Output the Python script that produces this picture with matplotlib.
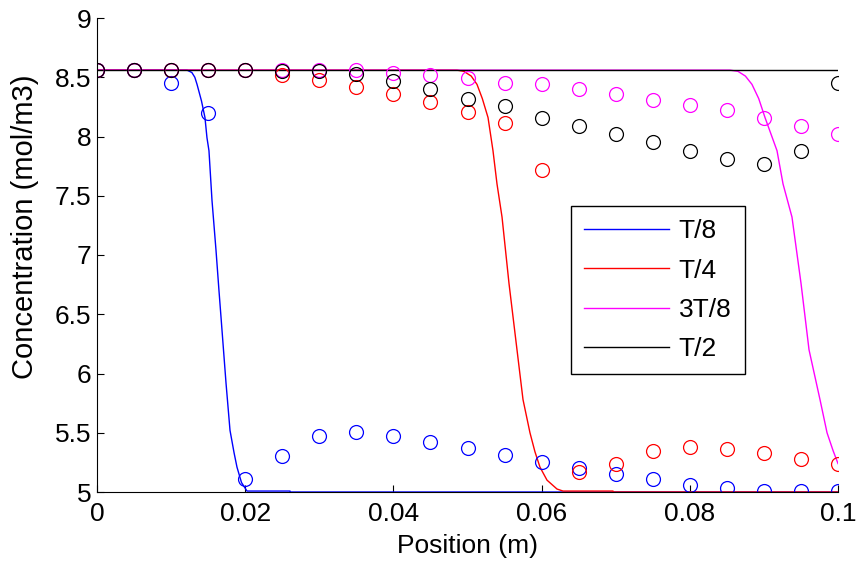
import numpy as np
import matplotlib
matplotlib.use("Agg")
import matplotlib.pyplot as plt
from matplotlib.ticker import FuncFormatter

plt.rcParams['font.family'] = ['Liberation Sans', 'DejaVu Sans']

# Simulated profiles (lines)
t8_x = [0.0, 0.01215, 0.01280, 0.01320, 0.01350, 0.01410, 0.01457, 0.01484, 0.01511,
        0.01552, 0.01606, 0.01646, 0.01673, 0.01741, 0.01795, 0.01850, 0.01889, 0.01950,
        0.02024, 0.02605, 0.02606, 0.1]
t8_y = [8.56, 8.56, 8.54, 8.50, 8.44, 8.30, 8.16, 7.99, 7.88,
        7.46, 7.04, 6.70, 6.48, 5.92, 5.52, 5.33, 5.21, 5.08,
        5.008, 5.008, 5.0, 5.0]

t4_x = [0.0, 0.04858, 0.04950, 0.05050, 0.05128, 0.05200, 0.05277, 0.05344, 0.05398,
        0.05466, 0.05560, 0.05668, 0.05749, 0.05843, 0.05910, 0.05978, 0.06073, 0.06208,
        0.06289, 0.06964, 0.06965, 0.1]
t4_y = [8.56, 8.56, 8.55, 8.51, 8.44, 8.32, 8.16, 7.88, 7.60,
        7.32, 6.76, 6.20, 5.78, 5.50, 5.34, 5.21, 5.10, 5.025,
        5.008, 5.008, 5.0, 5.0]

t38_x = [0.0, 0.08543, 0.08650, 0.08750, 0.08839, 0.08930, 0.09015, 0.09177, 0.09258,
         0.09379, 0.09501, 0.09609, 0.09757, 0.09852, 0.09933, 0.1]
t38_y = [8.56, 8.56, 8.55, 8.51, 8.44, 8.32, 8.16, 7.88, 7.60,
         7.32, 6.76, 6.20, 5.78, 5.50, 5.35, 5.24]

t2_x = [0.0, 0.1]
t2_y = [8.56, 8.56]

# Circle markers
pos = [0.0, 0.005, 0.01, 0.015, 0.02, 0.025, 0.03, 0.035, 0.04, 0.045, 0.05,
       0.055, 0.06, 0.065, 0.07, 0.075, 0.08, 0.085, 0.09, 0.095, 0.1]
c_t8 = [8.56, 8.56, 8.45, 8.20, 5.11, 5.30, 5.47, 5.51, 5.47, 5.42, 5.37,
        5.31, 5.25, 5.20, 5.15, 5.11, 5.06, 5.03, 5.01, 5.01, 5.01]
c_t4 = [8.56, 8.56, 8.56, 8.56, 8.56, 8.52, 8.48, 8.42, 8.36, 8.29, 8.21,
        8.11, 7.72, 5.17, 5.24, 5.35, 5.38, 5.36, 5.33, 5.28, 5.24]
c_t38 = [8.56, 8.56, 8.56, 8.56, 8.56, 8.56, 8.56, 8.56, 8.54, 8.52, 8.49,
         8.45, 8.44, 8.40, 8.36, 8.31, 8.27, 8.22, 8.16, 8.09, 8.02]
c_t2 = [8.56, 8.56, 8.56, 8.56, 8.56, 8.55, 8.55, 8.53, 8.47, 8.40, 8.32,
        8.26, 8.16, 8.09, 8.02, 7.95, 7.88, 7.81, 7.77, 7.88, 8.45]

labels = ['T/8', 'T/4', '3T/8', 'T/2']
colors = ['#0000ff', '#ff0000', '#ff00ff', '#000000']
xticks = [0, 0.02, 0.04, 0.06, 0.08, 0.1]
yticks = [5, 5.5, 6, 6.5, 7, 7.5, 8, 8.5, 9]

fig = plt.figure(figsize=(8.61, 5.67), dpi=100)
ax = fig.add_axes([97/861, 1-492/567, (838-97)/861, (492-18)/567])

lines_x = [t8_x, t4_x, t38_x, t2_x]
lines_y = [t8_y, t4_y, t38_y, t2_y]
handles = []
for lx, ly, c, lab in zip(lines_x, lines_y, colors, labels):
    h, = ax.plot(lx, ly, color=c, lw=1.0, label=lab)
    handles.append(h)

for cy, c in zip([c_t8, c_t4, c_t38, c_t2], colors):
    ax.plot(pos, cy, linestyle='none', marker='o', markersize=10,
            markerfacecolor='none', markeredgecolor=c, markeredgewidth=0.9)

ax.set_xlim(0, 0.1)
ax.set_ylim(5, 9)
ax.set_xticks(xticks)
ax.set_yticks(yticks)
fmt = FuncFormatter(lambda v, p: '%g' % round(v, 6))
ax.xaxis.set_major_formatter(fmt)
ax.yaxis.set_major_formatter(fmt)
ax.tick_params(direction='in', length=5, width=0.8, labelsize=19, colors='black')
ax.tick_params(axis='x', pad=7)
ax.tick_params(axis='y', pad=4)
ax.spines['top'].set_visible(False)
ax.spines['right'].set_visible(False)
for s in ['left', 'bottom']:
    ax.spines[s].set_linewidth(0.8)

ax.set_xlabel('Position (m)', fontsize=19, labelpad=6)
fig.text(25/861, 1-227/567, 'Concentration (mol/m3)', fontsize=21, rotation=90,
         ha='center', va='center')

leg = ax.legend(handles=handles, loc='upper left',
                bbox_to_anchor=(571/861, 1-206/567), bbox_transform=fig.transFigure,
                borderaxespad=0, fontsize=19, frameon=True, fancybox=False,
                handlelength=3.2, handletextpad=0.38, labelspacing=0.58,
                borderpad=0.5, edgecolor='black', framealpha=1)
leg.get_frame().set_linewidth(1.0)

fig.savefig('out.png', dpi=100)
